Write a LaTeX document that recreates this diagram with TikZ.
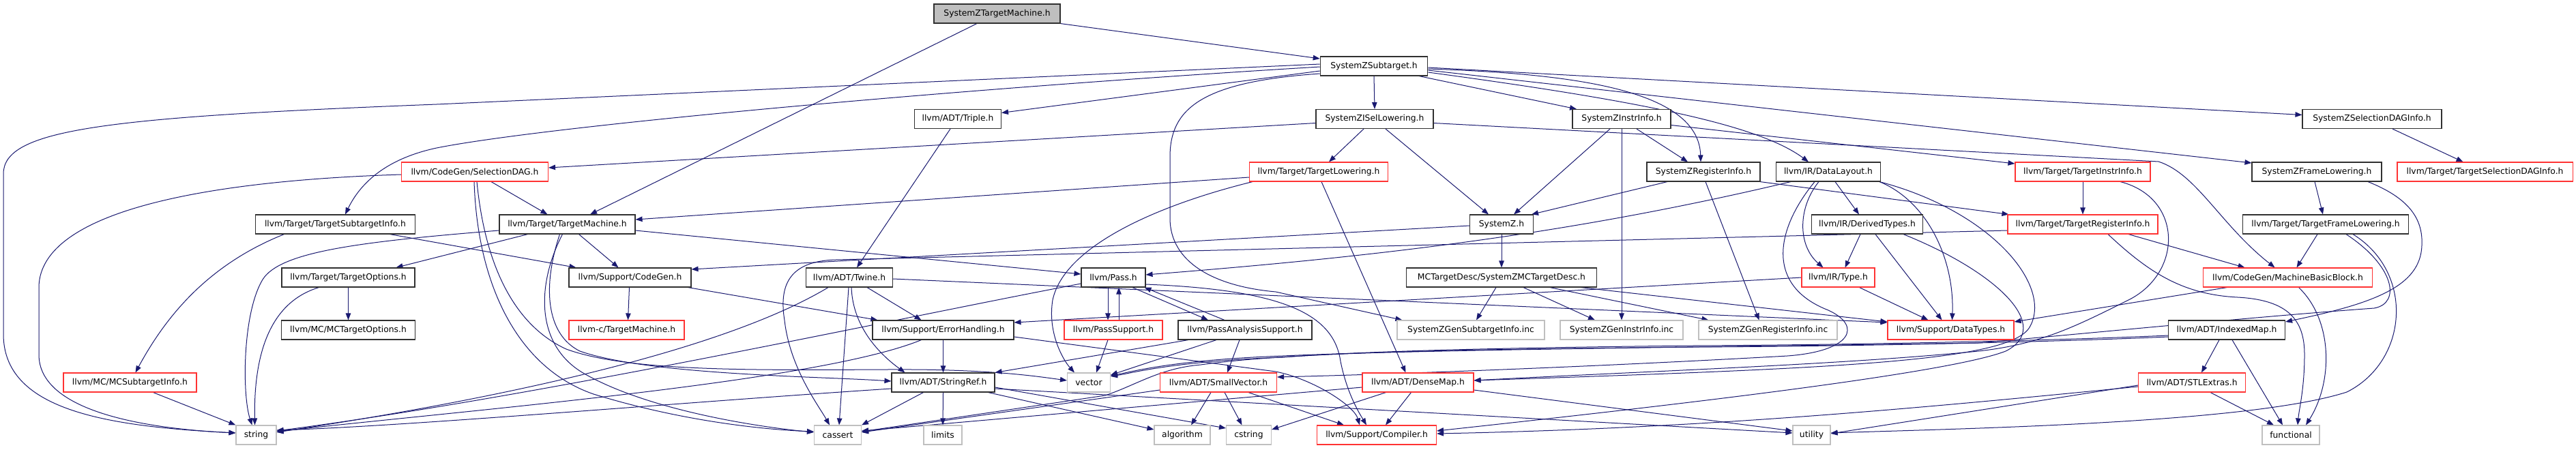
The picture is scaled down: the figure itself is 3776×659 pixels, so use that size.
\documentclass[tikz,border=0pt]{standalone}
\usepackage{fontspec}
\setmainfont{DejaVu Sans}
\usetikzlibrary{arrows.meta}
\definecolor{mb}{HTML}{191970}
\definecolor{trn}{HTML}{FF3333}
\definecolor{gsev}{HTML}{BFBFBF}
\definecolor{bdr}{HTML}{303030}
\newcommand\nf{\fontsize{12.35pt}{14pt}\selectfont}
\newcommand\mk[5]{\node[#1,minimum width=#4pt] (#2) at (#3) {#5};}
\pgfdeclarelayer{bg}
\pgfsetlayers{bg,main}
\tikzset{
  nbox/.style={draw=bdr, fill=white, line width=1.1pt, minimum height=28pt, inner sep=0pt, font=\nf, text=black},
  trunc/.style={nbox, draw=trn},
  sysh/.style={nbox, draw=gsev},
  rootn/.style={nbox, fill=gsev},
  ed/.style={draw=mb, line width=1pt, -{Triangle[length=10pt,width=7.5pt]}},
}
\begin{document}
\begin{tikzpicture}[x=1pt,y=-1pt]
\useasboundingbox (0,0) rectangle (3776,659);
% nodes
\mk{rootn}{sztm}{1461.5,20}{185}{SystemZTargetMachine.h}
\mk{nbox}{szsub}{2014,97}{157.5}{SystemZSubtarget.h}
\mk{nbox}{triple}{1404,174.5}{127}{llvm/ADT/Triple.h}
\mk{nbox}{isel}{2015,174.5}{172}{SystemZISelLowering.h}
\mk{nbox}{instr}{2377,174.5}{144}{SystemZInstrInfo.h}
\mk{nbox}{seldag}{3477,174.5}{204}{SystemZSelectionDAGInfo.h}
\mk{trunc}{sdag}{696,252}{215}{llvm/CodeGen/SelectionDAG.h}
\mk{trunc}{tlow}{1933,252}{203}{llvm/Target/TargetLowering.h}
\mk{nbox}{reginfo}{2497,252}{166}{SystemZRegisterInfo.h}
\mk{nbox}{dlay}{2680,252}{153}{llvm/IR/DataLayout.h}
\mk{trunc}{tii}{3053,252}{198}{llvm/Target/TargetInstrInfo.h}
\mk{nbox}{frame}{3396,252}{190}{SystemZFrameLowering.h}
\mk{trunc}{tsdi}{3642.5,252}{257}{llvm/Target/TargetSelectionDAGInfo.h}
\mk{nbox}{tsi}{491.5,329}{234}{llvm/Target/TargetSubtargetInfo.h}
\mk{nbox}{tm}{831.5,329}{199}{llvm/Target/TargetMachine.h}
\mk{nbox}{sysz}{2201,329}{93}{SystemZ.h}
\mk{nbox}{dtyp}{2737,329}{163}{llvm/IR/DerivedTypes.h}
\mk{trunc}{tri}{3053,329}{220}{llvm/Target/TargetRegisterInfo.h}
\mk{nbox}{tfl}{3409,329}{243}{llvm/Target/TargetFrameLowering.h}
\mk{nbox}{topt}{510.5,407}{195}{llvm/Target/TargetOptions.h}
\mk{nbox}{cgen}{923.5,407}{179}{llvm/Support/CodeGen.h}
\mk{nbox}{twine}{1245,407}{127}{llvm/ADT/Twine.h}
\mk{nbox}{pass}{1632,407}{94}{llvm/Pass.h}
\mk{nbox}{mctd}{2201,407}{279}{MCTargetDesc/SystemZMCTargetDesc.h}
\mk{trunc}{type}{2694.5,407}{107}{llvm/IR/Type.h}
\mk{trunc}{mbb}{3353.5,407}{248}{llvm/CodeGen/MachineBasicBlock.h}
\mk{nbox}{mcto}{510.5,484}{196}{llvm/MC/MCTargetOptions.h}
\mk{trunc}{llvmc}{918.5,484}{169}{llvm-c/TargetMachine.h}
\mk{nbox}{eh}{1382.5,484}{207}{llvm/Support/ErrorHandling.h}
\mk{trunc}{psup}{1632,484}{144}{llvm/PassSupport.h}
\mk{nbox}{pas}{1825,484}{196}{llvm/PassAnalysisSupport.h}
\mk{sysh}{gsub}{2156,484}{216}{SystemZGenSubtargetInfo.inc}
\mk{sysh}{ginstr}{2377,484}{180}{SystemZGenInstrInfo.inc}
\mk{sysh}{greg}{2591.5,484}{203}{SystemZGenRegisterInfo.inc}
\mk{trunc}{dtypes}{2859.5,484}{185}{llvm/Support/DataTypes.h}
\mk{nbox}{imap}{3264,484}{171}{llvm/ADT/IndexedMap.h}
\mk{trunc}{mcsti}{190.5,561}{195}{llvm/MC/MCSubtargetInfo.h}
\mk{nbox}{sref}{1382.5,561}{151}{llvm/ADT/StringRef.h}
\mk{sysh}{vec}{1596,561}{63}{vector}
\mk{trunc}{svec}{1786,561}{171}{llvm/ADT/SmallVector.h}
\mk{trunc}{dmap}{2078.5,561}{163}{llvm/ADT/DenseMap.h}
\mk{trunc}{stlx}{3213,561}{157}{llvm/ADT/STLExtras.h}
\mk{sysh}{str}{375.5,638}{59}{string}
\mk{sysh}{cas}{1228,638}{69}{cassert}
\mk{sysh}{lim}{1382,638}{56}{limits}
\mk{sysh}{alg}{1733,638}{82}{algorithm}
\mk{sysh}{cstr}{1830.5,638}{66}{cstring}
\mk{trunc}{comp}{2018,638}{175}{llvm/Support/Compiler.h}
\mk{sysh}{util}{2655.5,638}{55}{utility}
\mk{sysh}{func}{3358,638}{84}{functional}
\begin{pgfonlayer}{bg}
\fill[white] (0,0) rectangle (3776,659);
% SystemZTargetMachine.h
\draw[ed] (sztm.south east) -- ([yshift=11pt]szsub.west);
\draw[ed] ([xshift=-29.5pt]sztm.south) -- ([xshift=33.5pt]tm.north);
% SystemZSubtarget.h
\draw[ed] ([yshift=3pt]szsub.west) -- (640,153) .. controls (150,172) and (5,190) .. (5,255) -- (5,490) .. controls (5,600) and (150,625) .. ([yshift=3pt]str.west);
\draw[ed] ([yshift=-1pt]szsub.west) .. controls (1400,130) and (800,185) .. (640,217) .. controls (570,232) and (530,265) .. ([xshift=14.5pt]tsi.north);
\draw[ed] ([yshift=-7pt]szsub.west) -- ([yshift=9pt]triple.east);
\draw[ed] (szsub.south) -- (isel.north);
\draw[ed] ([xshift=66pt]szsub.south) -- ([xshift=-66pt]instr.north);
\draw[ed] ([yshift=-4pt]szsub.east) .. controls (2300,108) and (2490,130) .. ([xshift=-4pt]reginfo.north);
\draw[ed] ([yshift=-9pt]szsub.east) .. controls (2420,150) and (2580,185) .. ([xshift=-29pt]dlay.north);
\draw[ed] ([yshift=-2pt]szsub.east) -- ([yshift=6pt]seldag.west);
\draw[ed] ([yshift=-6pt]szsub.east) -- ([yshift=13pt]frame.west);
\draw[ed] ([yshift=-11pt]szsub.west) .. controls (1760,120) and (1715,160) .. (1715,230) -- (1715,320) .. controls (1715,385) and (1780,420) .. (1870,428) -- ([xshift=8pt]gsub.north west);
% row 2
\draw[ed] ([xshift=-11pt]triple.south) -- ([xshift=11pt]twine.north);
\draw[ed] ([yshift=-6pt]isel.west) -- ([yshift=6pt]sdag.east);
\draw[ed] ([xshift=-16pt]isel.south) -- ([xshift=15pt]tlow.north);
\draw[ed] ([xshift=16pt]isel.south) -- ([xshift=-19pt]sysz.north);
\draw[ed] ([yshift=-6pt]isel.east) -- (3164,237) .. controls (3220,255) and (3255,330) .. ([xshift=-19pt]mbb.north);
\draw[ed] ([xshift=-17pt]instr.south) -- ([xshift=18pt]sysz.north);
\draw[ed] ([xshift=22pt]instr.south) -- ([xshift=-23pt]reginfo.north);
\draw[ed] ([yshift=-9pt]instr.east) -- ([yshift=12pt]tii.west);
\draw[ed] (instr.south) -- (ginstr.north);
\draw[ed] ([xshift=30pt]seldag.south) -- ([xshift=-32pt]tsdi.north);
% row 3
\draw[ed] ([xshift=24pt]sdag.south) -- ([xshift=-29pt]tm.north);
\draw[ed] ([yshift=-4pt]sdag.west) .. controls (300,265) and (60,310) .. (57,420) -- (57,520) .. controls (57,600) and (200,628) .. ([yshift=3pt]str.west);
\draw[ed] ([xshift=-1pt]sdag.south) .. controls (700,420) and (760,540) .. (870,578) .. controls (1000,618) and (1120,630) .. ([yshift=5pt]cas.west);
\draw[ed] ([xshift=3pt]sdag.south) .. controls (712,400) and (760,480) .. (830,512) .. controls (920,545) and (1100,543) .. (1300,542) .. controls (1450,541) and (1520,552) .. ([yshift=3pt]vec.west);
\draw[ed] ([yshift=-8pt]tlow.west) -- ([yshift=7pt]tm.east);
\draw[ed] ([xshift=4pt]tlow.south) -- ([xshift=-18pt]dmap.north);
\draw[ed] ([xshift=-97pt]tlow.south) .. controls (1700,300) and (1560,360) .. (1543,440) .. controls (1535,490) and (1560,530) .. ([xshift=-21pt]vec.north);
\draw[ed] ([xshift=-53pt]reginfo.south) -- ([xshift=44pt]sysz.north);
\draw[ed] ([xshift=83pt]reginfo.south) -- ([xshift=2pt]tri.north west);
\draw[ed] ([xshift=3pt]reginfo.south) -- ([xshift=-13pt]greg.north);
\draw[ed] ([xshift=-55pt]dlay.south) .. controls (2295,345) and (2009,377) .. ([yshift=4pt]pass.east);
\draw[ed] ([xshift=-14pt]dlay.south) .. controls (2635,305) and (2635,360) .. ([xshift=-22pt]type.north);
\draw[ed] ([xshift=10pt]dlay.south) -- ([xshift=-12pt]dtyp.north);
\draw[ed] ([xshift=-2pt]dlay.south east) .. controls (2825,295) and (2865,380) .. ([xshift=2pt]dtypes.north);
\draw[ed] ([xshift=-20pt]dlay.south) .. controls (2600,340) and (2590,420) .. (2680,455) .. controls (2730,478) and (2715,515) .. (2620,522) .. controls (2300,540) and (2000,550) .. ([yshift=8pt]svec.east);
\draw[ed] ([xshift=-2pt]dlay.south east) .. controls (2920,310) and (3010,420) .. (2975,480) .. controls (2945,530) and (2700,540) .. ([yshift=3pt]dmap.east);
\draw[ed] (tii.south) -- (tri.north);
\draw[ed] ([xshift=55pt]tii.south) .. controls (3200,290) and (3200,400) .. (3120,440) .. controls (3040,480) and (2990,505) .. (2900,515) .. controls (2700,535) and (2400,545) .. ([yshift=3pt]dmap.east);
\draw[ed] ([xshift=-3pt]frame.south) -- ([xshift=-4pt]tfl.north);
\draw[ed] ([xshift=75pt]frame.south) .. controls (3530,290) and (3552,320) .. (3550,360) .. controls (3548,420) and (3480,445) .. ([yshift=12pt]imap.east);
% row 4
\draw[ed] ([xshift=-75pt]tsi.south) .. controls (300,390) and (240,470) .. ([xshift=8pt]mcsti.north);
\draw[ed] ([xshift=80pt]tsi.south) -- ([xshift=-79pt]cgen.north);
\draw[ed] ([xshift=17pt]tm.south) -- ([xshift=-17pt]cgen.north);
\draw[ed] ([yshift=-9pt]tm.east) -- ([yshift=5pt]pass.west);
\draw[ed] ([xshift=-58pt]tm.south) -- ([xshift=70pt]topt.north);
\draw[ed] ([yshift=-9pt]tm.west) .. controls (520,355) and (410,370) .. (385,410) .. controls (355,460) and (355,580) .. ([xshift=-6pt]str.north);
\draw[ed] ([xshift=-7pt]tm.south) .. controls (785,420) and (785,510) .. (860,550) .. controls (950,600) and (1100,625) .. ([yshift=4pt]cas.west);
\draw[ed] ([xshift=-11pt]tm.south) .. controls (795,420) and (800,490) .. (850,515) .. controls (950,550) and (1200,552) .. ([yshift=2pt]sref.west);
\draw[ed] (sysz.south) -- (mctd.north);
\draw[ed] ([yshift=-2pt]sysz.west) -- ([yshift=12pt]cgen.east);
\draw[ed] ([xshift=-10pt]dtyp.south) -- ([xshift=10pt]type.north);
\draw[ed] ([xshift=12pt]dtyp.south) -- ([xshift=-13pt]dtypes.north);
\draw[ed] ([xshift=53pt]dtyp.south) .. controls (2930,400) and (3010,480) .. (2940,515) .. controls (2850,550) and (2400,600) .. ([yshift=6pt]comp.east);
\draw[ed] ([xshift=67pt]tri.south) -- ([xshift=-63pt]mbb.north);
\draw[ed] ([xshift=37pt]tri.south) .. controls (3150,400) and (3200,432) .. (3280,436) .. controls (3355,440) and (3378,470) .. (3378,520) .. controls (3378,570) and (3370,600) .. ([xshift=10pt]func.north);
\draw[ed] ([yshift=-9pt]tri.west) -- (1225,381) .. controls (1155,383) and (1142,420) .. (1150,470) .. controls (1158,540) and (1200,595) .. ([xshift=-12pt]cas.north);
\draw[ed] ([xshift=-12pt]tfl.south) -- ([xshift=13pt]mbb.north);
\draw[ed] ([xshift=40pt]tfl.south) .. controls (3540,400) and (3530,530) .. (3440,575) .. controls (3300,620) and (2900,628) .. ([yshift=3pt]util.east);
\draw[ed] ([xshift=30pt]tfl.south) .. controls (3510,390) and (3520,445) .. (3480,452) .. controls (3300,465) and (3050,490) .. (2900,503) .. controls (2600,508) and (2100,512) .. (1880,522) .. controls (1720,528) and (1660,545) .. ([yshift=10pt]vec.east);
% row 5
\draw[ed] (topt.south) -- (mcto.north);
\draw[ed] ([xshift=-43pt]topt.south) .. controls (390,445) and (372,530) .. ([xshift=-2pt]str.north);
\draw[ed] ([xshift=-1pt]cgen.south) -- ([xshift=2pt]llvmc.north);
\draw[ed] ([xshift=-5pt]cgen.south east) -- ([xshift=8pt]eh.north west);
\draw[ed] ([xshift=26pt]twine.south) -- ([xshift=-32pt]eh.north);
\draw[ed] ([xshift=3pt]twine.south) .. controls (1250,480) and (1290,520) .. ([xshift=-56pt]sref.north);
\draw[ed] ([xshift=-1pt]twine.south) -- ([xshift=2pt]cas.north);
\draw[ed] ([xshift=-31pt]twine.south) .. controls (1050,520) and (700,590) .. ([yshift=4pt]str.east);
\draw[ed] ([yshift=-2pt]twine.east) -- ([yshift=11pt]dtypes.west);
\draw[ed] ([xshift=-8pt]pass.south) -- ([xshift=-8pt]psup.north);
\draw[ed] ([xshift=8pt]psup.north) -- ([xshift=8pt]pass.south);
\draw[ed] ([xshift=28pt]pass.south) -- ([xshift=-54pt]pas.north);
\draw[ed] ([xshift=-30pt]pas.north) -- ([xshift=-2pt]pass.south east);
\draw[ed] ([yshift=-10pt]pass.east) .. controls (1880,425) and (1955,460) .. (1965,530) .. controls (1975,580) and (1995,610) .. ([xshift=-15pt]comp.north);
\draw[ed] ([yshift=-9pt]pass.west) .. controls (1300,470) and (800,580) .. ([yshift=6pt]str.east);
\draw[ed] ([xshift=-8pt]mctd.south) -- ([xshift=8pt]gsub.north);
\draw[ed] ([xshift=32pt]mctd.south) -- ([xshift=-39pt]ginstr.north);
\draw[ed] ([xshift=71pt]mctd.south) -- ([xshift=15pt]greg.north west);
\draw[ed] ([xshift=116pt]mctd.south) -- ([yshift=12pt]dtypes.west);
\draw[ed] (type.west) -- ([yshift=11pt]eh.east);
\draw[ed] ([xshift=31pt]type.south) -- ([xshift=-33pt]dtypes.north);
\draw[ed] ([xshift=-89pt]mbb.south) -- ([yshift=12pt]dtypes.east);
\draw[ed] ([xshift=16pt]mbb.south) .. controls (3420,470) and (3420,560) .. ([xshift=22pt]func.north);
% row 6
\draw[ed] ([xshift=-8pt]psup.south) -- ([xshift=11pt]vec.north);
\draw[ed] ([xshift=-8pt]pas.south) -- ([xshift=13pt]svec.north);
\draw[ed] ([xshift=-83pt]pas.south) -- (sref.north east);
\draw[ed] ([xshift=-42pt]pas.south) -- ([yshift=11pt]vec.east);
\draw[ed] (eh.south) -- (sref.north);
\draw[ed] ([xshift=-32pt]eh.south) .. controls (1200,560) and (700,600) .. ([yshift=5pt]str.east);
\draw[ed] ([yshift=-10pt]eh.east) -- (1870,545) .. controls (1925,556) and (1985,595) .. ([xshift=-25pt]comp.north);
\draw[ed] ([xshift=-11pt]imap.south) -- ([xshift=14pt]stlx.north);
\draw[ed] ([xshift=8pt]imap.south) -- ([xshift=-12pt]func.north);
\draw[ed] ([yshift=-8pt]imap.west) .. controls (3000,500) and (2700,506) .. (2480,507) .. controls (2200,510) and (2000,515) .. (1880,524) .. controls (1720,530) and (1660,547) .. ([yshift=9pt]vec.east);
\draw[ed] ([yshift=-10pt]imap.west) .. controls (3000,502) and (2700,508) .. (2480,509) .. controls (2200,512) and (1900,515) .. (1760,535) .. controls (1700,540) and (1665,565) .. (1620,580) -- ([yshift=5pt]cas.east);
% row 7
\draw[ed] ([xshift=34pt]mcsti.south) -- (str.north west);
\draw[ed] ([xshift=-29pt]sref.south) -- (cas.north east);
\draw[ed] (sref.south) -- (lim.north);
\draw[ed] ([xshift=66pt]sref.south) -- ([yshift=8pt]alg.west);
\draw[ed] ([yshift=-7pt]sref.east) -- ([yshift=10pt]cstr.west);
\draw[ed] ([yshift=-9pt]sref.west) .. controls (1000,590) and (600,625) .. ([yshift=7pt]str.east);
\draw[ed] ([yshift=-9pt]sref.east) -- ([yshift=3pt]util.west);
\draw[ed] ([xshift=-11pt]svec.south) -- ([xshift=13pt]alg.north);
\draw[ed] ([xshift=9pt]svec.south) -- ([xshift=-10pt]cstr.north);
\draw[ed] ([yshift=-11pt]svec.west) -- ([yshift=4pt]cas.east);
\draw[ed] ([xshift=44pt]svec.south) -- ([xshift=-48pt]comp.north);
\draw[ed] ([xshift=-10pt]dmap.south) -- ([xshift=13pt]comp.north);
\draw[ed] ([xshift=-47pt]dmap.south) -- ([yshift=8pt]cstr.east);
\draw[ed] ([yshift=-7pt]dmap.west) -- ([yshift=6pt]cas.east);
\draw[ed] ([yshift=-11pt]dmap.east) -- ([yshift=6pt]util.west);
\draw[ed] ([xshift=27pt]stlx.south) -- ([xshift=-25pt]func.north);
\draw[ed] ([yshift=-4pt]stlx.west) -- ([yshift=2pt]util.east);
\draw[ed] ([yshift=-6pt]stlx.west) .. controls (2800,600) and (2500,628) .. ([yshift=2pt]comp.east);
\end{pgfonlayer}
\end{tikzpicture}
\end{document}
